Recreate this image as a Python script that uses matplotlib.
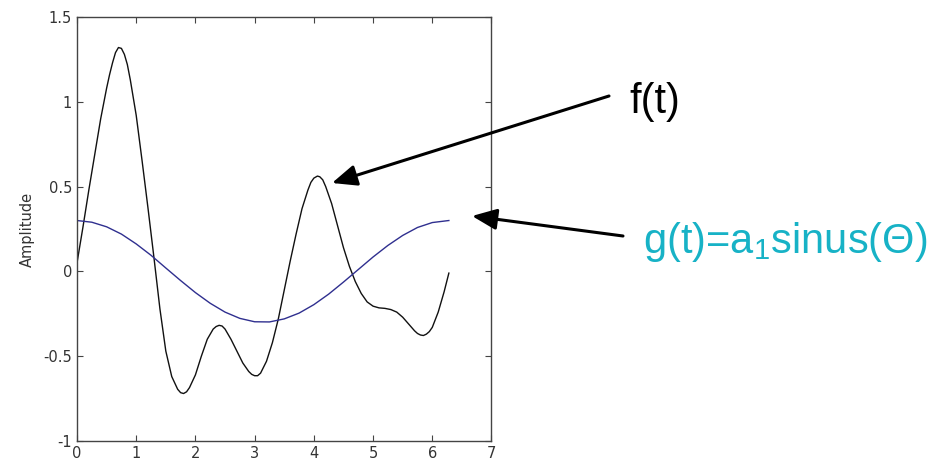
import matplotlib
matplotlib.use('Agg')
import matplotlib.pyplot as plt

# f(t)
f_t = [0.00, 0.10, 0.20, 0.30, 0.40, 0.50, 0.55, 0.60, 0.65, 0.70, 0.75, 0.80, 0.85, 0.90, 1.00,
       1.10, 1.20, 1.30, 1.40, 1.50, 1.60, 1.70, 1.75, 1.80, 1.85, 1.90, 2.00, 2.10, 2.20,
       2.30, 2.35, 2.40, 2.45, 2.50, 2.60, 2.70, 2.80, 2.90, 2.95, 3.00, 3.05, 3.10, 3.20, 3.30,
       3.40, 3.50, 3.60, 3.70, 3.80, 3.90, 3.95, 4.00, 4.06, 4.10, 4.15, 4.20, 4.30, 4.40,
       4.50, 4.60, 4.70, 4.80, 4.90, 5.00, 5.10, 5.20, 5.30, 5.40, 5.50, 5.60,
       5.70, 5.75, 5.80, 5.85, 5.90, 5.95, 6.00, 6.10, 6.20, 6.28]
f_val = [0.05, 0.26, 0.48, 0.69, 0.90, 1.08, 1.16, 1.23, 1.29, 1.32, 1.315, 1.28, 1.22, 1.13, 0.92,
         0.65, 0.37, 0.08, -0.22, -0.47, -0.62, -0.695, -0.715, -0.72, -0.71, -0.685, -0.61, -0.50, -0.40,
         -0.34, -0.325, -0.318, -0.322, -0.34, -0.40, -0.47, -0.54, -0.59, -0.607, -0.615, -0.615, -0.60, -0.53, -0.42,
         -0.28, -0.11, 0.06, 0.22, 0.37, 0.48, 0.525, 0.55, 0.562, 0.558, 0.54, 0.50, 0.40, 0.27,
         0.14, 0.03, -0.06, -0.13, -0.18, -0.205, -0.215, -0.218, -0.225, -0.24, -0.27, -0.31,
         -0.35, -0.366, -0.375, -0.378, -0.37, -0.355, -0.33, -0.24, -0.12, -0.01]

# g(t)
g_t = [0.00, 0.25, 0.50, 0.75, 1.00, 1.25, 1.50, 1.75, 2.00, 2.25, 2.50, 2.75, 3.00,
       3.25, 3.50, 3.75, 4.00, 4.25, 4.50, 4.75, 5.00, 5.25, 5.50, 5.75, 6.00, 6.28]
g_val = [0.30, 0.29, 0.263, 0.22, 0.162, 0.095, 0.02, -0.054, -0.125, -0.188, -0.24, -0.277, -0.297,
         -0.298, -0.28, -0.246, -0.196, -0.134, -0.063, 0.011, 0.085, 0.153, 0.212, 0.259, 0.288, 0.30]

x_ticks = [0, 1, 2, 3, 4, 5, 6, 7]
y_ticks = [-1, -0.5, 0, 0.5, 1, 1.5]
y_labels = ['-1', '-0.5', '0', '0.5', '1', '1.5']

W, H = 937, 461
fig = plt.figure(figsize=(W / 100, H / 100), dpi=100)
ax = fig.add_axes([77 / W, 1 - 441 / H, (491.5 - 77) / W, (441 - 17) / H])

ax.plot(f_t, f_val, color='#111111', lw=1.0)
ax.plot(g_t, g_val, color='#2f2f8f', lw=1.0)

ax.set_xlim(0, 7)
ax.set_ylim(-1, 1.5)
ax.set_xticks(x_ticks)
ax.set_yticks(y_ticks)
ax.set_yticklabels(y_labels)
ax.tick_params(direction='in', top=True, right=True, length=4, width=0.8,
               color='#444444', labelcolor='#333333', labelsize=10.5, pad=3.5)
for s in ax.spines.values():
    s.set_color('#444444')
    s.set_linewidth(1.0)
ax.set_ylabel('Amplitude', fontsize=10.5, color='#333333', labelpad=6)


def fig_xy(px, py):
    return (px / W, 1 - py / H)


arrow = dict(arrowstyle='-|>,head_length=0.75,head_width=0.32', mutation_scale=20,
             lw=2.2, color='black', shrinkA=0, shrinkB=0)
ax.annotate('', xy=fig_xy(332, 183), xytext=fig_xy(609, 96),
            xycoords='figure fraction', textcoords='figure fraction',
            arrowprops=arrow, annotation_clip=False)
ax.annotate('', xy=fig_xy(472, 216), xytext=fig_xy(623, 236),
            xycoords='figure fraction', textcoords='figure fraction',
            arrowprops=arrow, annotation_clip=False)

plt.rcParams['mathtext.default'] = 'regular'
fig.text(*fig_xy(629, 113), 'f(t)', fontsize=30, family='Liberation Sans',
         color='black', ha='left', va='baseline')
fig.text(*fig_xy(643, 253), 'g(t)=a$_1$sinus(Θ)', fontsize=30,
         family='Liberation Sans', color='#17b2c6', ha='left', va='baseline')

plt.savefig('out.png', dpi=100)
